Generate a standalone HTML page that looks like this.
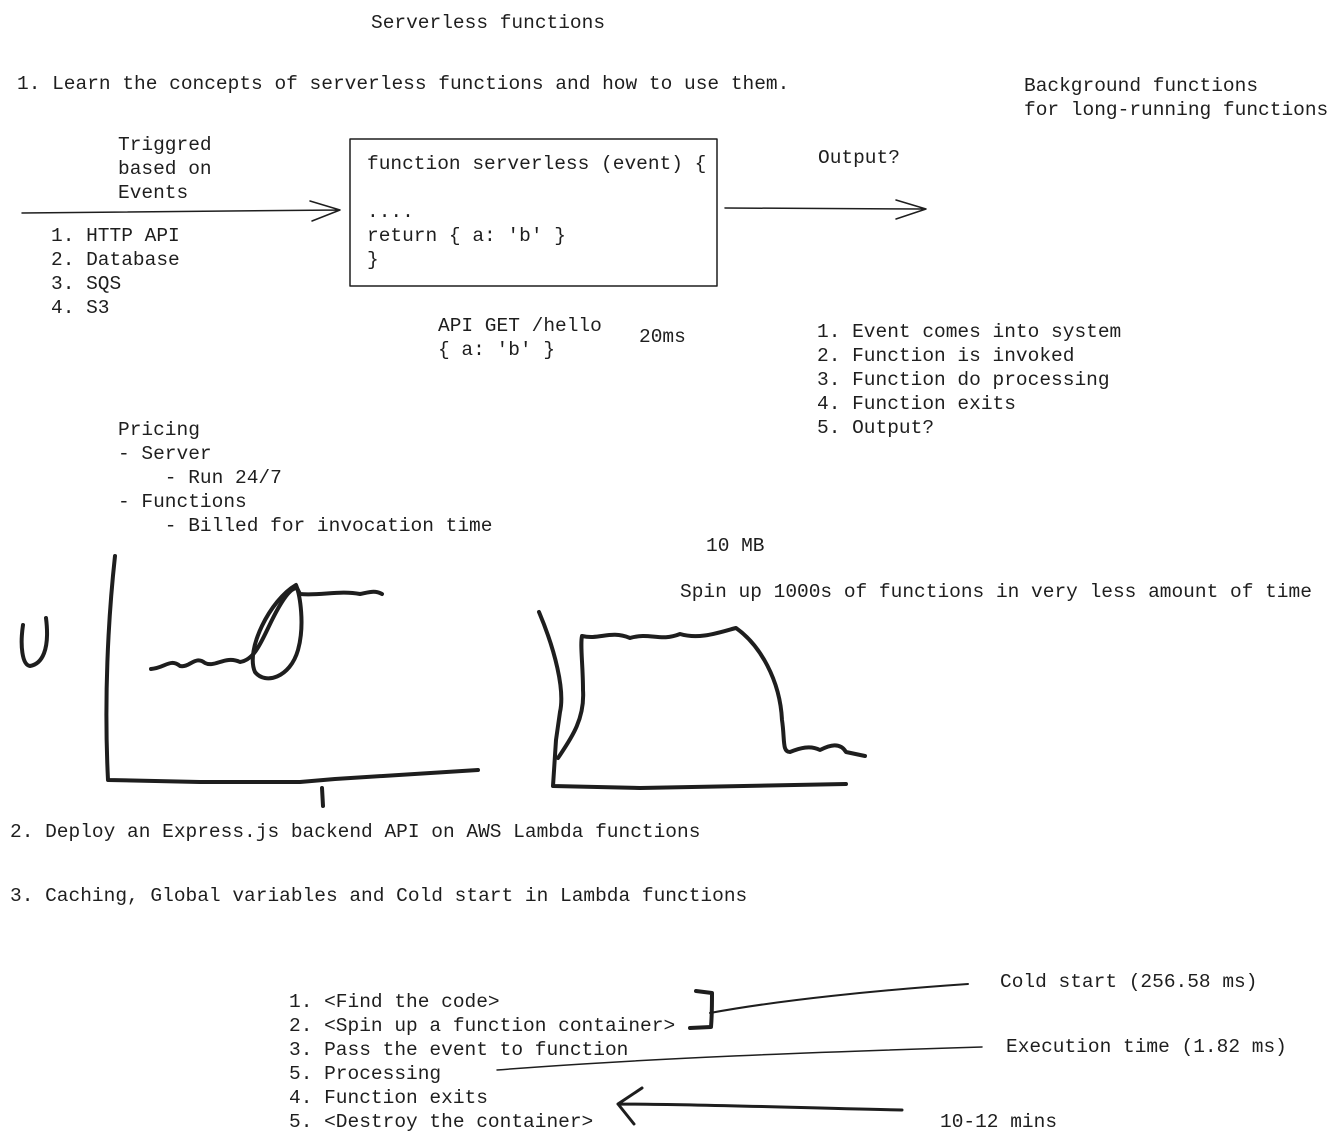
<!DOCTYPE html>
<html><head><meta charset="utf-8"><style>
html,body{margin:0;padding:0;background:#fff;}
body{width:1339px;height:1142px;position:relative;overflow:hidden;font-family:"Liberation Mono",monospace;font-size:19.5px;color:#1e1e1e;}
.t{position:absolute;white-space:pre;line-height:24px;}
svg{position:absolute;left:0;top:0;}
</style></head><body>
<svg width="1339" height="1142" fill="none" stroke="#1e1e1e" stroke-linecap="round" stroke-linejoin="round">
<rect x="350" y="139" width="367" height="147" stroke-width="1.5"/>
<path d="M22 213 L340 210 M310 201 L340 210 L312 221" stroke-width="1.5"/>
<path d="M725 208 L926 209 M896 200 L926 209 L896 219" stroke-width="1.5"/>
<g stroke-width="4">
<path d="M23 625 C20 645 22 665 30 666 C42 664 50 650 46 618"/>
<path d="M115 556 C108 620 104 700 108 780 L200 782 L300 782 L335 779 L478 770"/>
<path d="M322 788 L323 806"/>
<path d="M151 669 C165 668 170 658 180 666 C190 668 195 655 205 663 C215 668 225 655 240 662 C255 660 262 640 272 620 C282 600 290 588 297 588 L300 594 C320 596 340 590 360 594 C370 592 375 590 382 594"/>
<path d="M296 585 C270 600 245 650 255 672 C265 685 290 678 298 650 C305 625 300 595 296 585"/>
<path d="M539 612 C555 650 565 690 560 712 L556 740 L553 786 L640 788 L846 784"/>
<path d="M558 758 C570 740 585 720 583 690 C583 665 580 645 582 636 C600 640 610 630 630 638 C650 632 660 642 680 634 C700 640 720 632 736 628 C760 645 780 680 782 720 C785 740 782 752 790 752 C800 748 810 745 820 750 C830 745 840 742 846 752 L865 756"/>
<path d="M696 991 L712 993 C712 1005 712 1015 711 1027 L690 1028"/>
<path d="M710 1013 C780 1000 880 990 968 984" stroke-width="2"/>
<path d="M497 1070 C650 1058 820 1052 982 1047" stroke-width="1.5"/>
<path d="M902 1110 C800 1108 700 1104 618 1104 M642 1088 L618 1104 L634 1124" stroke-width="3"/>
</g>
</svg>
<div class="t" style="left:371px;top:11px">Serverless functions</div>
<div class="t" style="left:17px;top:72px">1. Learn the concepts of serverless functions and how to use them.</div>
<div class="t" style="left:1024px;top:74px">Background functions
for long-running functions</div>
<div class="t" style="left:118px;top:133px">Triggred
based on
Events</div>
<div class="t" style="left:367px;top:152px">function serverless (event) {

....
return { a: 'b' }
}</div>
<div class="t" style="left:818px;top:146px">Output?</div>
<div class="t" style="left:51px;top:224px">1. HTTP API
2. Database
3. SQS
4. S3</div>
<div class="t" style="left:438px;top:314px">API GET /hello
{ a: 'b' }</div>
<div class="t" style="left:639px;top:325px">20ms</div>
<div class="t" style="left:817px;top:320px">1. Event comes into system
2. Function is invoked
3. Function do processing
4. Function exits
5. Output?</div>
<div class="t" style="left:118px;top:418px">Pricing
- Server
    - Run 24/7
- Functions
    - Billed for invocation time</div>
<div class="t" style="left:706px;top:534px">10 MB</div>
<div class="t" style="left:680px;top:580px">Spin up 1000s of functions in very less amount of time</div>
<div class="t" style="left:10px;top:820px">2. Deploy an Express.js backend API on AWS Lambda functions</div>
<div class="t" style="left:10px;top:884px">3. Caching, Global variables and Cold start in Lambda functions</div>
<div class="t" style="left:289px;top:990px">1. &lt;Find the code&gt;
2. &lt;Spin up a function container&gt;
3. Pass the event to function
5. Processing
4. Function exits
5. &lt;Destroy the container&gt;</div>
<div class="t" style="left:1000px;top:970px">Cold start (256.58 ms)</div>
<div class="t" style="left:1006px;top:1035px">Execution time (1.82 ms)</div>
<div class="t" style="left:940px;top:1110px">10-12 mins</div>
</body></html>
